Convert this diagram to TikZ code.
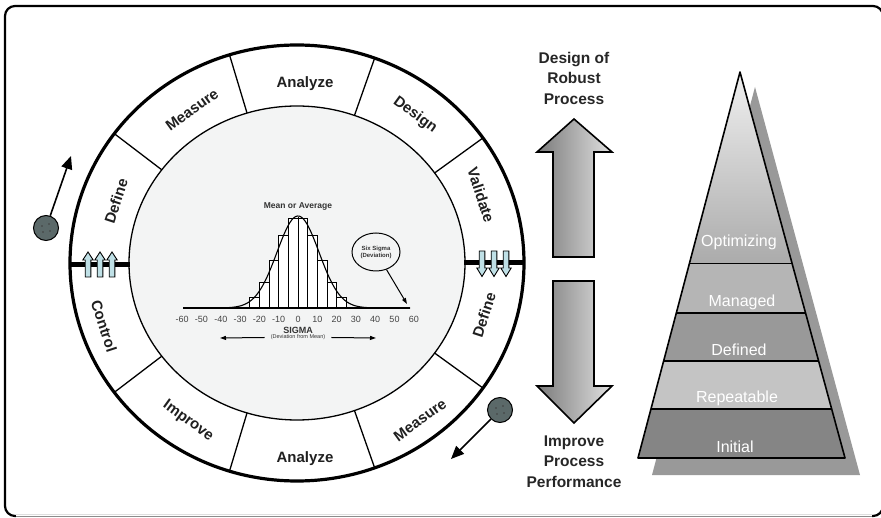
\documentclass[tikz,border=0pt]{standalone}
\usepackage{fontspec}
\setmainfont{Liberation Sans}
\usetikzlibrary{calc,arrows.meta,shapes.geometric}
\definecolor{ringbg}{HTML}{F3F4F4}
\definecolor{ballfill}{HTML}{5B6969}
\definecolor{tabblue}{HTML}{BFE0E6}
\definecolor{tickgray}{HTML}{444444}
\begin{document}
\begin{tikzpicture}[x=1pt,y=-1pt,
  seglabel/.style={font=\bfseries\fontsize{15}{17}\selectfont, inner sep=0pt, text=black!88},
  bigtext/.style={align=center, font=\bfseries\fontsize{15.5}{20.5}\selectfont, text=black!85, inner sep=0pt},
  pyrlabel/.style={text=white, font=\fontsize{16}{18}\selectfont, inner sep=0pt},
  ticklabel/.style={text=tickgray, font=\fontsize{9}{10}\selectfont, inner sep=0pt},
  ball/.style={circle, draw, line width=1pt, fill=ballfill, minimum size=25pt, inner sep=0pt},
  balltip/.style={line width=1.6pt, -{Triangle[length=13pt,width=11pt]}},
  tabarrow/.style={draw, fill=tabblue, line width=0.9pt, line join=miter},
  bigarrow/.style={draw, line width=1.6pt, line join=miter, left color=black!52, right color=black!12}
]
\useasboundingbox (0,0) rectangle (881,518);
\clip (0,0) rectangle (881,518);

% frame
\draw[line width=2.2pt, rounded corners=10pt] (5,6) rectangle (883,516);
\draw[white, line width=3pt] (16,516) -- (872,516);
\draw[black!45, line width=1pt] (16,516.5) -- (872,516.5);

% ring of phases
\fill[white] (297,263) ellipse [x radius=227, y radius=218];
\fill[ringbg] (297,263) ellipse [x radius=168, y radius=157];
\foreach \a in {35,70,107.3,143.6,216.4,252.7,290,325}
  \draw[line width=1.3pt] ({297+168*cos(\a)},{263-157*sin(\a)}) -- ({297+227*cos(\a)},{263-218*sin(\a)});
\draw[line width=1.3pt] (297,263) ellipse [x radius=168, y radius=157];
\draw[line width=3.2pt] (297,263) ellipse [x radius=227, y radius=218];

% phase names
\node[seglabel, rotate=72]  (defA) at (116,201) {Define};
\node[seglabel, rotate=36]  (meaA) at (192,110) {Measure};
\node[seglabel]             (anaA) at (305,84)  {Analyze};
\node[seglabel, rotate=-36] (des)  at (415,115) {Design};
\node[seglabel, rotate=-72] (val)  at (481,195) {Validate};
\node[seglabel, rotate=-72] (ctl)  at (104,326) {Control};
\node[seglabel, rotate=-36] (imp)  at (188,421) {Improve};
\node[seglabel]             (anaB) at (305,459) {Analyze};
\node[seglabel, rotate=36]  (meaB) at (420,420) {Measure};
\node[seglabel, rotate=72]  (defB) at (484,315) {Define};

% gates between the two halves
\draw[line width=5pt] (70,264.5) -- (130,264.5);
\draw[line width=5pt] (464,263) -- (524,263);
\foreach \cx in {88,100,112}
  \path[tabarrow, shift={(\cx,264.5)}] (-2.8,12.5) -- (-2.8,-4.5) -- (-5.2,-4.5) -- (0,-12.5) -- (5.2,-4.5) -- (2.8,-4.5) -- (2.8,12.5) -- cycle;
\foreach \cx in {482,494,506}
  \path[tabarrow, shift={(\cx,263)}] (-2.8,-12) -- (-2.8,5) -- (-5.2,5) -- (0,13.5) -- (5.2,5) -- (2.8,5) -- (2.8,-12) -- cycle;

% rolling balls
\node[ball] (ballA) at (46,228) {};
\node[ball] (ballB) at (500,410) {};
\foreach \b in {ballA,ballB} {
  \fill[black!75] ($(\b)+(-4,-2)$) circle (0.9);
  \fill[black!75] ($(\b)+(3,-4)$) circle (0.9);
  \fill[black!75] ($(\b)+(-3,4)$) circle (0.9);
  \fill[black!75] ($(\b)+(4,3)$) circle (0.9);
}
\coordinate (tipA) at (71,156);
\coordinate (tipB) at (451,459);
\draw[balltip] (ballA) -- (tipA);
\draw[balltip] (ballB) -- (tipB);

% normal distribution
\node[font=\bfseries\fontsize{8.5}{10}\selectfont, text=black!80, inner sep=0pt] (mean) at (298,206) {Mean or Average};
\foreach \k in {1,...,5} {
  \pgfmathsetmacro\h{308-92*exp(-0.5*((\k-0.5)*9.65/21)^2)}
  \draw[fill=white, line width=0.6pt] ({298+(\k-1)*9.65},308) rectangle ({298+\k*9.65},\h);
  \draw[fill=white, line width=0.6pt] ({298-\k*9.65},308) rectangle ({298-(\k-1)*9.65},\h);
}
\draw[line width=0.9pt, dash pattern=on 2pt off 1.5pt] (298,217) -- (298,308);
\draw[line width=1.1pt] plot[domain=-115:112, samples=120, smooth] ({298+\x},{308-92*exp(-0.5*(\x/21)^2)});
\draw[line width=1.4pt] (183,308) -- (410,308);
\foreach \k/\t in {-6/-60,-5/-50,-4/-40,-3/-30,-2/-20,-1/-10,0/0,1/10,2/20,3/30,4/40,5/50,6/60}
  \node[ticklabel] at ({298+\k*19.3},319) {\t};
\node[font=\bfseries\fontsize{9}{10}\selectfont, text=black!80, inner sep=0pt] (sig) at (298,330) {SIGMA};
\node[font=\fontsize{5.5}{6}\selectfont, text=black!80, inner sep=0pt] (dev) at (298,337.5) {(Deviation from Mean)};
\coordinate (devL) at (220,338);
\coordinate (devR) at (376,338);
\draw[line width=1pt, -{Triangle[length=6pt,width=4pt]}] ([xshift=-6pt]dev.west) -- (devL);
\draw[line width=1pt, -{Triangle[length=6pt,width=4pt]}] ([xshift=6pt]dev.east) -- (devR);
\node[draw, ellipse, line width=1pt, minimum width=48pt, minimum height=38pt, fill=ringbg, align=center, inner sep=0pt,
      font=\bfseries\fontsize{6}{7}\selectfont, text=black!80] (six) at (376,252) {Six Sigma\\(Deviation)};
\coordinate (sixtip) at (407,304);
\draw[line width=1pt, -{Triangle[length=6pt,width=4pt]}] (six) -- (sixtip);

% direction arrows
\path[bigarrow] (574,119) -- (612,152) -- (594,152) -- (594,257) -- (553,257) -- (553,152) -- (537,152) -- cycle;
\path[bigarrow] (574,423) -- (612,386) -- (594,386) -- (594,281) -- (553,281) -- (553,386) -- (537,386) -- cycle;
\node[bigtext] (up) at (574,78) {Design of\\Robust\\Process};
\node[bigtext] (down) at (574,461.5) {Improve\\Process\\Performance};

% maturity pyramid
\fill[black!40] (755,87) -- (860,475) -- (652,475) -- cycle;
\coordinate (apex) at (740,72);
\coordinate (bl) at (638,458);
\coordinate (br) at (845,458);
\coordinate (L1) at ($(apex)!0.497!(bl)$); \coordinate (R1) at ($(apex)!0.497!(br)$);
\coordinate (L2) at ($(apex)!0.624!(bl)$); \coordinate (R2) at ($(apex)!0.624!(br)$);
\coordinate (L3) at ($(apex)!0.749!(bl)$); \coordinate (R3) at ($(apex)!0.749!(br)$);
\coordinate (L4) at ($(apex)!0.873!(bl)$); \coordinate (R4) at ($(apex)!0.873!(br)$);
\shade[top color=black!6, bottom color=black!33] (apex) -- (R1) -- (L1) -- cycle;
\fill[black!29] (L1) -- (R1) -- (R2) -- (L2) -- cycle;
\fill[black!40] (L2) -- (R2) -- (R3) -- (L3) -- cycle;
\fill[black!23] (L3) -- (R3) -- (R4) -- (L4) -- cycle;
\fill[black!48] (L4) -- (R4) -- (br) -- (bl) -- cycle;
\draw[line width=1.3pt] (L1) -- (R1) (L2) -- (R2) (L3) -- (R3) (L4) -- (R4);
\draw[line width=1.6pt, line join=round] (apex) -- (br) -- (bl) -- cycle;
\node[pyrlabel] (opt) at (739,242) {Optimizing};
\node[pyrlabel] (man) at (742,302) {Managed};
\node[pyrlabel] (dfd) at (739,350) {Defined};
\node[pyrlabel] (rep) at (737,398) {Repeatable};
\node[pyrlabel] (ini) at (735,447) {Initial};
\end{tikzpicture}
\end{document}
